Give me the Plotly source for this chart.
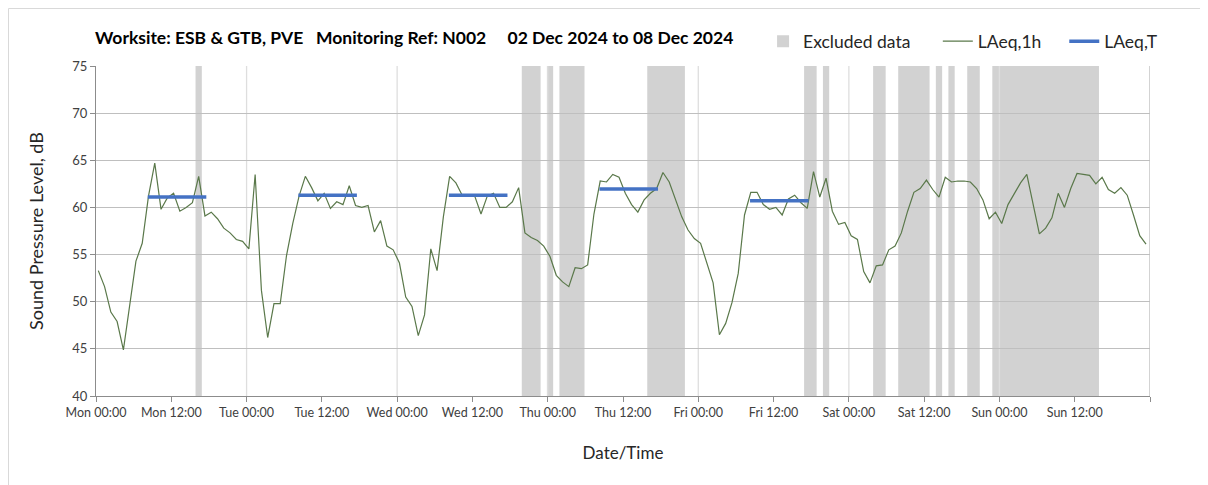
import pandas as pd
import plotly.graph_objects as go

# ---------------- data ----------------
start_time = "2024-12-02 00:22"
laeq_1h = [
    53.3, 51.6, 48.9, 47.9, 44.9, 49.8, 54.3, 56.2, 61.2, 64.7, 59.8, 61.0,
    61.5, 59.6, 60.0, 60.5, 63.3, 59.1, 59.5, 58.8, 57.8, 57.3, 56.6, 56.4,
    55.6, 63.5, 51.2, 46.2, 49.8, 49.8, 54.9, 58.3, 61.2, 63.3, 62.1, 60.7,
    61.5, 59.9, 60.6, 60.3, 62.3, 60.2, 60.0, 60.2, 57.4, 58.6, 55.9, 55.5,
    54.1, 50.5, 49.5, 46.4, 48.6, 55.6, 53.3, 59.0, 63.3, 62.6, 61.3, 61.2,
    61.2, 59.3, 61.2, 61.5, 60.0, 60.0, 60.6, 62.1, 57.3, 56.8, 56.5, 55.9,
    54.8, 52.8, 52.1, 51.6, 53.6, 53.5, 53.9, 59.3, 62.8, 62.7, 63.5, 63.2,
    61.5, 60.3, 59.5, 60.8, 61.5, 62.0, 63.7, 62.7, 60.8, 59.0, 57.6, 56.7,
    56.2, 54.1, 52.0, 46.5, 47.7, 49.9, 53.0, 59.2, 61.6, 61.6, 60.3, 59.8,
    60.0, 59.2, 60.9, 61.3, 60.5, 59.9, 63.8, 61.1, 63.1, 59.6, 58.2, 58.4,
    57.0, 56.6, 53.2, 52.0, 53.8, 53.9, 55.5, 55.9, 57.3, 59.6, 61.6, 62.0,
    62.9, 61.9, 61.1, 63.2, 62.7, 62.8, 62.8, 62.7, 62.0, 60.8, 58.8, 59.5,
    58.3, 60.3, 61.5, 62.6, 63.5, 60.5, 57.2, 57.8, 58.9, 61.5, 60.0, 62.0,
    63.6, 63.5, 63.4, 62.5, 63.2, 61.9, 61.5, 62.1, 61.3, 59.2, 57.0, 56.1,
]
excluded_idx = [16, 68, 69, 70, 72, 74, 75, 76, 77, 88, 89, 90, 91, 92, 93,
                113, 114, 116, 124, 125, 128, 129, 130, 131, 132, 134, 136,
                139, 140] + list(range(143, 160))
laeq_t_start = ["2024-12-02 08:15", "2024-12-03 08:15", "2024-12-04 08:15",
                "2024-12-05 08:15", "2024-12-06 08:15"]
laeq_t_end = ["2024-12-02 17:35", "2024-12-03 17:35", "2024-12-04 17:35",
              "2024-12-05 17:35", "2024-12-06 17:35"]
laeq_t = [61.1, 61.3, 61.3, 61.95, 60.7]
axis_start, axis_end = "2024-12-02", "2024-12-09"
y_min, y_max = 40, 75
NB = "\u00a0"
title_text = ("Worksite: ESB &amp; GTB, PVE" + NB * 3 + "Monitoring Ref: N002"
              + NB * 5 + "02 Dec 2024 to 08 Dec 2024")

# ---------------- build ----------------
times = pd.date_range(start_time, periods=len(laeq_1h), freq="h")
half = pd.Timedelta(minutes=30)
FONT = "Lato"

fig = go.Figure()

# legend proxy for excluded data
fig.add_trace(go.Bar(x=[None], y=[None], name="Excluded data" + NB * 5,
                     marker=dict(color="#d2d2d2", line=dict(width=0))))
fig.add_trace(go.Scatter(x=times, y=laeq_1h, mode="lines", name="LAeq,1h" + NB * 4,
                         line=dict(color="#5a784a", width=1.2)))

bx, by = [], []
for s, e, v in zip(laeq_t_start, laeq_t_end, laeq_t):
    bx += [pd.Timestamp(s), pd.Timestamp(e), None]
    by += [v, v, None]
fig.add_trace(go.Scatter(x=bx, y=by, mode="lines", name="LAeq,T",
                         line=dict(color="#4472C4", width=3.5)))

shapes = []
runs = []
for i in sorted(excluded_idx):
    if runs and i == runs[-1][1] + 1:
        runs[-1][1] = i
    else:
        runs.append([i, i])
for a, b in runs:
    shapes.append(dict(type="rect", xref="x", yref="y", layer="below",
                       x0=times[a] - half, x1=times[b] + half, y0=y_min, y1=y_max,
                       fillcolor="#d2d2d2", line=dict(width=0)))
days = pd.date_range("2024-12-03", "2024-12-08", freq="D")
for d in days:
    shapes.append(dict(type="line", xref="x", yref="y", layer="below",
                       x0=d, x1=d, y0=y_min, y1=y_max,
                       line=dict(color="#dedede", width=1.3)))
shapes.append(dict(type="line", xref="x", yref="y", layer="below",
                   x0=pd.Timestamp(axis_end), x1=pd.Timestamp(axis_end),
                   y0=y_min, y1=y_max, line=dict(color="#a6a6a6", width=1)))
# outer chart border
shapes.append(dict(type="rect", xref="paper", yref="paper",
                   x0=-0.0830, x1=1.2, y0=-0.5, y1=1.1742,
                   line=dict(color="#d9d9d9", width=1), fillcolor="rgba(0,0,0,0)"))

tickvals = pd.date_range(axis_start, axis_end, freq="12h")
ticktext = [t.strftime("%a %H:%M") for t in tickvals[:-1]] + [""]

fig.update_layout(
    width=1208, height=485,
    margin=dict(l=88, r=66, t=58, b=97),
    paper_bgcolor="white", plot_bgcolor="white",
    font=dict(family=FONT, color="#262626"),
    shapes=shapes,
    bargap=0,
    showlegend=True,
    legend=dict(orientation="h", x=1.0124, xanchor="right", y=1.075, yanchor="middle",
                font=dict(family=FONT, size=17.5, color="#262626"),
                bgcolor="rgba(0,0,0,0)", traceorder="normal", itemwidth=30),
    annotations=[dict(text="<b>" + title_text + "</b>", xref="paper", yref="paper",
                      x=-0.003, y=1.085, xanchor="left", yanchor="middle",
                      showarrow=False,
                      font=dict(family=FONT, size=17.5, color="#000000"))],
)
fig.update_xaxes(
    type="date",
    range=[pd.Timestamp(axis_start), pd.Timestamp(axis_end)],
    tickmode="array", tickvals=tickvals, ticktext=ticktext,
    showgrid=False, zeroline=False,
    showline=True, linecolor="#8c8c8c", linewidth=1,
    ticks="outside", ticklen=5, tickcolor="#8c8c8c",
    tickfont=dict(family=FONT, size=12.5, color="#404040"),
    title=dict(text="Date/Time", font=dict(family=FONT, size=17, color="#262626"),
               standoff=28),
)
fig.update_yaxes(
    range=[y_min, y_max], dtick=5, tick0=40,
    showgrid=True, gridcolor="#bfbfbf", gridwidth=1, zeroline=False,
    showline=True, linecolor="#8c8c8c", linewidth=1,
    ticks="outside", ticklen=5, tickcolor="#8c8c8c",
    tickfont=dict(family=FONT, size=13, color="#404040"),
    title=dict(text="Sound Pressure Level, dB",
               font=dict(family=FONT, size=18, color="#262626"), standoff=24),
)

fig.write_html("out.html")
